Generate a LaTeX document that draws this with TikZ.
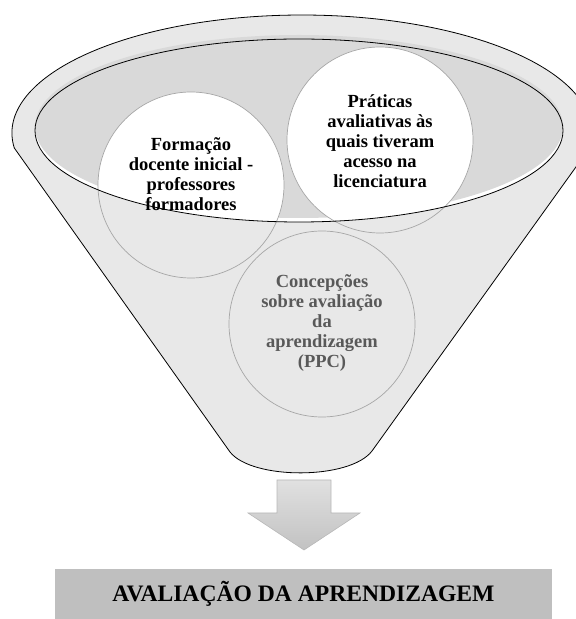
\documentclass[tikz,border=0pt]{standalone}
\usepackage{fontspec}
\setmainfont{Liberation Serif}
\definecolor{funil}{HTML}{E8E8E8}
\definecolor{boca}{HTML}{D9D9D9}
\definecolor{aro}{HTML}{A6A6A6}
\definecolor{faixa}{HTML}{BFBFBF}
\definecolor{cinzatexto}{HTML}{595959}

\begin{document}
\begin{tikzpicture}[x=1pt,y=1pt,line width=0.8pt,
  bola/.style={circle,draw=aro,line width=0.7pt,minimum size=186pt,inner sep=0pt},
  rotulo/.style={align=center,font=\fontsize{18.5}{20}\selectfont\bfseries}]
\useasboundingbox (0,0) rectangle (576,619);
\clip (0,0) rectangle (576,619);
% 漏斗主体
\draw[fill=funil] (14.3,471) arc[start angle=187.3,end angle=-7.3,x radius=290pt,y radius=118pt]
  -- (372,168) .. controls (350,139) and (252,139) .. (230,167) -- cycle;
% 漏斗口
\fill[white] (299,488.5) ellipse[x radius=264pt,y radius=91.5pt];
\fill[boca] (299,492.5) ellipse[x radius=264pt,y radius=91.5pt];
\begin{scope}
\clip (299,488.5) ellipse[x radius=264pt,y radius=91.5pt];
\fill[white] (191,434) circle (93pt) (380,479) circle (93pt);
\end{scope}
% 三个圆
\node[bola] (formacao) at (191,434) {};
\node[bola] (praticas) at (380,479) {};
\node[bola] (concepcoes) at (322,295) {};
\draw (299,488.5) ellipse[x radius=264pt,y radius=91.5pt];
\node[rotulo] (txtformacao) at ([yshift=11pt]formacao.center) {Formação\\docente inicial -\\professores\\formadores};
\node[rotulo] (txtpraticas) at ([yshift=-1pt]praticas.center) {Práticas\\avaliativas às\\quais tiveram\\acesso na\\licenciatura};
\node[rotulo,text=cinzatexto] (txtconcepcoes) at ([yshift=1pt]concepcoes.center) {Concepções\\sobre avaliação\\da\\aprendizagem\\(PPC)};
% 箭头
\draw[draw=aro!80,line width=0.6pt,top color=black!12,bottom color=black!24]
  (277,139) -- (331,139) -- (331,106) -- (360,106) -- (304,69) -- (248,106) -- (277,106) -- cycle;
% 结果
\node[fill=faixa,minimum width=497pt,minimum height=50pt,inner sep=0pt] (avaliacao) at (303.5,25)
  {\fontsize{23.6}{28}\selectfont\bfseries AVALIAÇÃO DA APRENDIZAGEM};
\end{tikzpicture}
\end{document}
